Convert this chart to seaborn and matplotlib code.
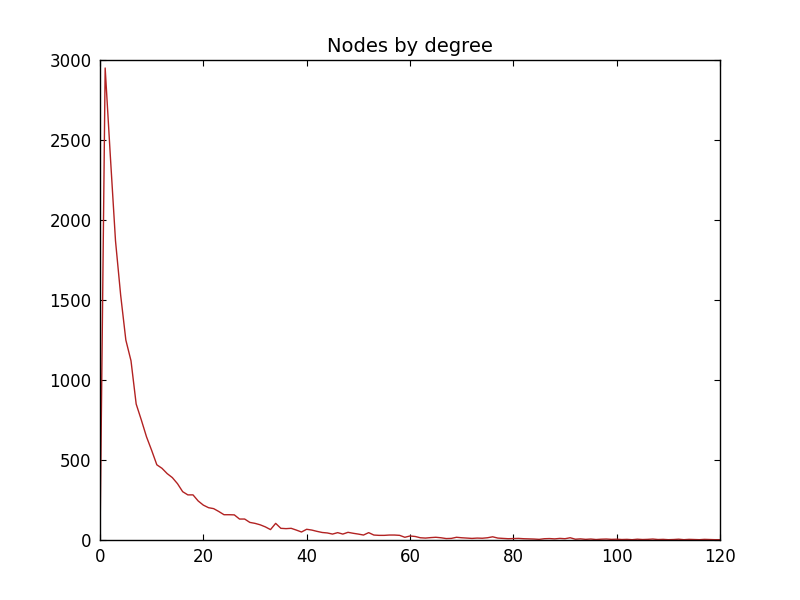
import seaborn as sns
import matplotlib.pyplot as plt
import pandas as pd

# node count per degree
degree = list(range(0, 121))
nodes = [
    0, 2950, 2400, 1870, 1530, 1250, 1120, 850, 750, 645,
    560, 470, 448, 415, 390, 352, 302, 282, 282, 244,
    218, 202, 196, 178, 158, 158, 157, 131, 131, 110,
    104, 95, 82, 65, 104, 73, 71, 73, 62, 50,
    67, 62, 54, 47, 44, 37, 46, 37, 48, 42,
    37, 31, 46, 31, 29, 29, 31, 31, 29, 17,
    25, 22, 14, 12, 15, 17, 14, 9, 10, 17,
    14, 12, 10, 12, 11, 14, 20, 12, 10, 8,
    9, 10, 8, 7, 6, 4, 8, 9, 7, 10,
    8, 14, 5, 7, 4, 6, 3, 5, 6, 4,
    5, 3, 4, 2, 5, 3, 4, 6, 3, 4,
    2, 3, 5, 2, 4, 3, 2, 4, 3, 2, 2,
]

df = pd.DataFrame({"degree": degree, "nodes": nodes})

sns.set_style("white")
plt.rcParams["font.family"] = ["DejaVu Sans"]
plt.rcParams["text.color"] = "black"
plt.rcParams["xtick.color"] = "black"
plt.rcParams["ytick.color"] = "black"

fig, ax = plt.subplots(figsize=(8, 6), dpi=100)
fig.subplots_adjust(left=0.125, right=0.9, bottom=0.1, top=0.9)

sns.lineplot(data=df, x="degree", y="nodes", ax=ax, color="#b22222", linewidth=1.0)

ax.set_xlim(0, 120)
ax.set_ylim(0, 3000)
ax.set_title("Nodes by degree", fontsize=14, color="black")
ax.set_xlabel("")
ax.set_ylabel("")
ax.tick_params(direction="in", length=4, width=0.8, top=True, right=True,
               bottom=True, left=True, labelsize=12, pad=6,
               color="black", labelcolor="black")
for s in ax.spines.values():
    s.set_color("black")
    s.set_linewidth(1.0)

plt.savefig("out.png", dpi=100)
